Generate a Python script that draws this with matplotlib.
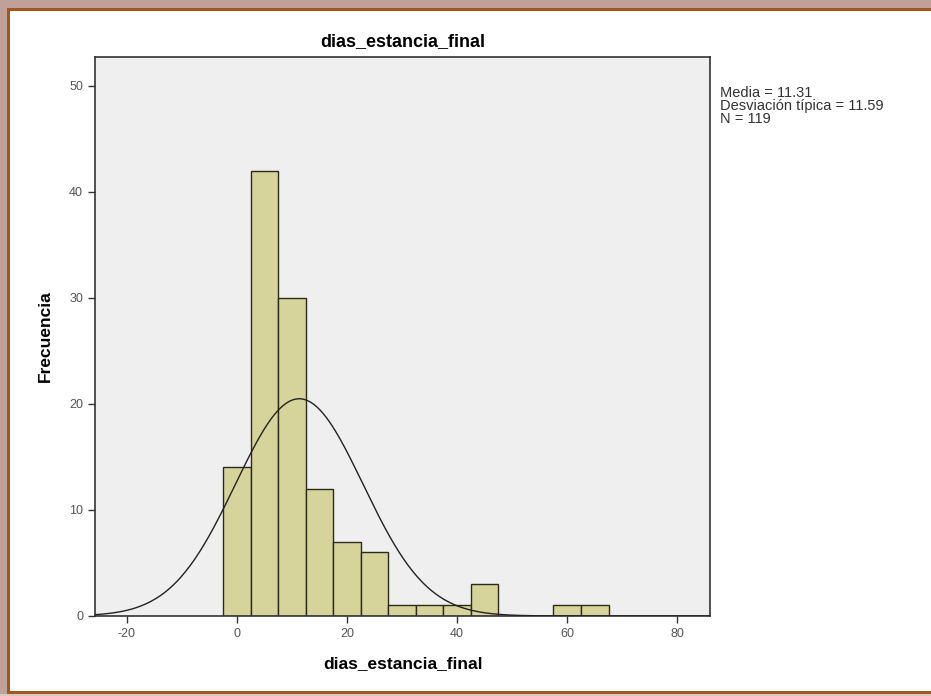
import numpy as np
import matplotlib.pyplot as plt
from matplotlib.patches import Rectangle

plt.rcParams['font.family'] = ['Liberation Sans', 'DejaVu Sans']
plt.rcParams['axes.unicode_minus'] = False

# histogram bins (width 5) and counts
bin_left = [-2.5, 2.5, 7.5, 12.5, 17.5, 22.5, 27.5, 32.5, 37.5, 42.5, 57.5, 62.5]
counts = [14, 42, 30, 12, 7, 6, 1, 1, 1, 3, 1, 1]
bin_width = 5
media = 11.31
desv = 11.59
n = 119


def main():
    fig = plt.figure(figsize=(9.31, 6.96), dpi=100)
    fig.patch.set_facecolor('white')

    W, H = 931.0, 696.0
    # frame: pinkish band and orange-brown line on top, left and bottom (no right side)
    def px_rect(x, y, w, h, color):
        fig.patches.append(Rectangle((x / W, 1 - (y + h) / H), w / W, h / H,
                                     transform=fig.transFigure, facecolor=color,
                                     edgecolor='none', zorder=0))
    px_rect(0, 0, W, 8, '#bfa199')
    px_rect(0, 0, 7, H, '#bfa199')
    px_rect(7, 8, W - 7, 3, '#a5561f')
    px_rect(7, 8, 3, H - 8, '#a5561f')
    px_rect(7, 691, W - 7, 3, '#a5561f')
    px_rect(0, 694, W, 2, '#d8c8c0')

    ax = fig.add_axes([0.102, 0.115, 0.661, 0.803])
    ax.set_facecolor('#efefef')

    ax.bar(bin_left, counts, width=bin_width, align='edge', color='#d6d49a',
           edgecolor='#2b2b1a', linewidth=1.0, zorder=2)

    xs = np.linspace(-25.8, 86, 400)
    ys = n * bin_width / (desv * np.sqrt(2 * np.pi)) * np.exp(-0.5 * ((xs - media) / desv) ** 2)
    ax.plot(xs, ys, color='#222222', linewidth=1.0, zorder=3)

    ax.set_xlim(-25.8, 86)
    ax.set_ylim(0, 52.7)
    ax.set_xticks([-20, 0, 20, 40, 60, 80])
    ax.set_yticks([0, 10, 20, 30, 40, 50])
    ax.tick_params(direction='out', length=5, width=1, labelsize=9, colors='#333333',
                   labelcolor='#555555')

    for s in ax.spines.values():
        s.set_color('#333333')
        s.set_linewidth(1.2)

    ax.set_title('dias_estancia_final', fontsize=13, fontweight='bold', pad=8)
    ax.set_xlabel('dias_estancia_final', fontsize=12.5, fontweight='bold', labelpad=12)
    ax.set_ylabel('Frecuencia', fontsize=12.5, fontweight='bold', labelpad=12)

    fig.text(0.773, 0.877, 'Media = 11.31\nDesviación típica = 11.59\nN = 119',
             fontsize=10.5, va='top', ha='left', linespacing=0.92, color='#333333')

    fig.savefig('out.png', dpi=100)


if __name__ == '__main__':
    main()
